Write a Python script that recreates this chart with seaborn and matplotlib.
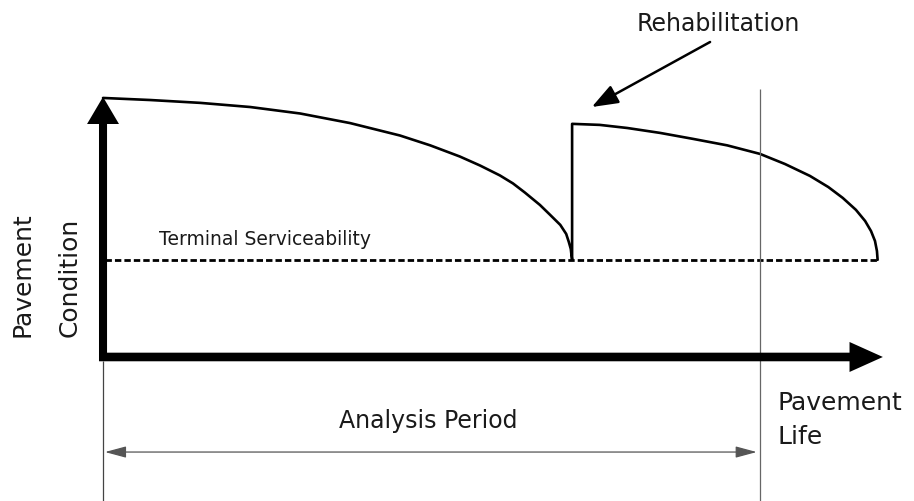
import pandas as pd
import seaborn as sns
import matplotlib
matplotlib.use("Agg")
import matplotlib.pyplot as plt

# first life cycle (years, condition index)
cycle1_years = [0.0, 0.72, 1.48, 2.24, 3.00, 3.76, 4.52, 4.98, 5.43, 5.74, 6.04,
                6.24, 6.42, 6.65, 6.80, 6.96, 7.05, 7.09, 7.12, 7.13, 7.14]
cycle1_cond = [10.0, 9.92, 9.81, 9.65, 9.40, 9.03, 8.55, 8.17, 7.74, 7.39, 7.01,
               6.70, 6.35, 5.87, 5.50, 5.10, 4.75, 4.44, 4.17, 3.94, 3.75]

# after rehabilitation
cycle2_years = [7.14, 7.56, 7.98, 8.48, 8.98, 9.50, 10.0, 10.38, 10.76, 11.04,
                11.26, 11.46, 11.60, 11.69, 11.75, 11.78, 11.79]
cycle2_cond = [9.00, 8.96, 8.84, 8.65, 8.42, 8.17, 7.84, 7.45, 6.99, 6.56,
               6.14, 5.68, 5.25, 4.86, 4.48, 4.09, 3.75]

terminal_serviceability = 3.75
analysis_period = 10.0

df = pd.DataFrame({
    "year": cycle1_years + cycle2_years,
    "condition": cycle1_cond + cycle2_cond,
})

sns.set_style("white")
plt.rcParams["font.family"] = ["DejaVu Sans"]
ink = "#1a1a1a"

fig = plt.figure(figsize=(9.14, 5.02), dpi=100)
ax = fig.add_axes([0, 0, 1, 1])
ax.set_xlim(-1.568, 12.344)
ax.set_ylim(-5.56, 13.82)
ax.axis("off")

# deterioration curve with the jump at rehabilitation
sns.lineplot(data=df, x="year", y="condition", sort=False, estimator=None,
             color="black", lw=1.9, ax=ax, solid_joinstyle="round")

# terminal serviceability level
ax.hlines(terminal_serviceability, 0.03, df["year"].max(), colors="black",
          lw=2.0, linestyles=(0, (2.3, 1.1)))

# thin guide lines
ax.vlines(analysis_period, -5.6, 10.35, colors="#666666", lw=0.9)
ax.vlines(0, -5.6, -0.15, colors="#444444", lw=0.9)

# thick axis arrows
ax.annotate("", xy=(0, 10.04), xytext=(0, -0.15),
            arrowprops=dict(arrowstyle="simple,head_length=19.5,head_width=23,tail_width=5.8",
                            mutation_scale=1, fc="black", ec="none",
                            shrinkA=0, shrinkB=0))
ax.annotate("", xy=(11.87, 0), xytext=(-0.06, 0),
            arrowprops=dict(arrowstyle="simple,head_length=24,head_width=21.6,tail_width=6.2",
                            mutation_scale=1, fc="black", ec="none",
                            shrinkA=0, shrinkB=0))

# analysis period span
ax.annotate("", xy=(0.03, -3.67), xytext=(9.95, -3.67),
            arrowprops=dict(arrowstyle="<|-|>,head_length=1.3,head_width=0.35",
                            color="#555555", lw=0.9, shrinkA=0, shrinkB=0))

# rehabilitation pointer
ax.annotate("", xy=(7.44, 9.65), xytext=(9.24, 12.16),
            arrowprops=dict(arrowstyle="-|>,head_length=1.6,head_width=0.6",
                            color="black", lw=1.8, shrinkA=0, shrinkB=0))

ax.text(9.36, 12.63, "Rehabilitation", fontsize=17, color=ink,
        ha="center", va="baseline")
ax.text(0.85, 4.36, "Terminal Serviceability", fontsize=13.5, color=ink,
        ha="left", va="baseline")
ax.text(4.95, -2.70, "Analysis Period", fontsize=17, color=ink,
        ha="center", va="baseline")
ax.text(10.26, -2.01, "Pavement", fontsize=18, color=ink, ha="left", va="baseline")
ax.text(10.26, -3.32, "Life", fontsize=18, color=ink, ha="left", va="baseline")
ax.text(-1.12, 0.81, "Pavement", fontsize=18, color=ink, rotation=90,
        rotation_mode="anchor", ha="left", va="baseline")
ax.text(-0.40, 0.81, "Condition", fontsize=18, color=ink, rotation=90,
        rotation_mode="anchor", ha="left", va="baseline")

fig.savefig("out.png", dpi=100)
